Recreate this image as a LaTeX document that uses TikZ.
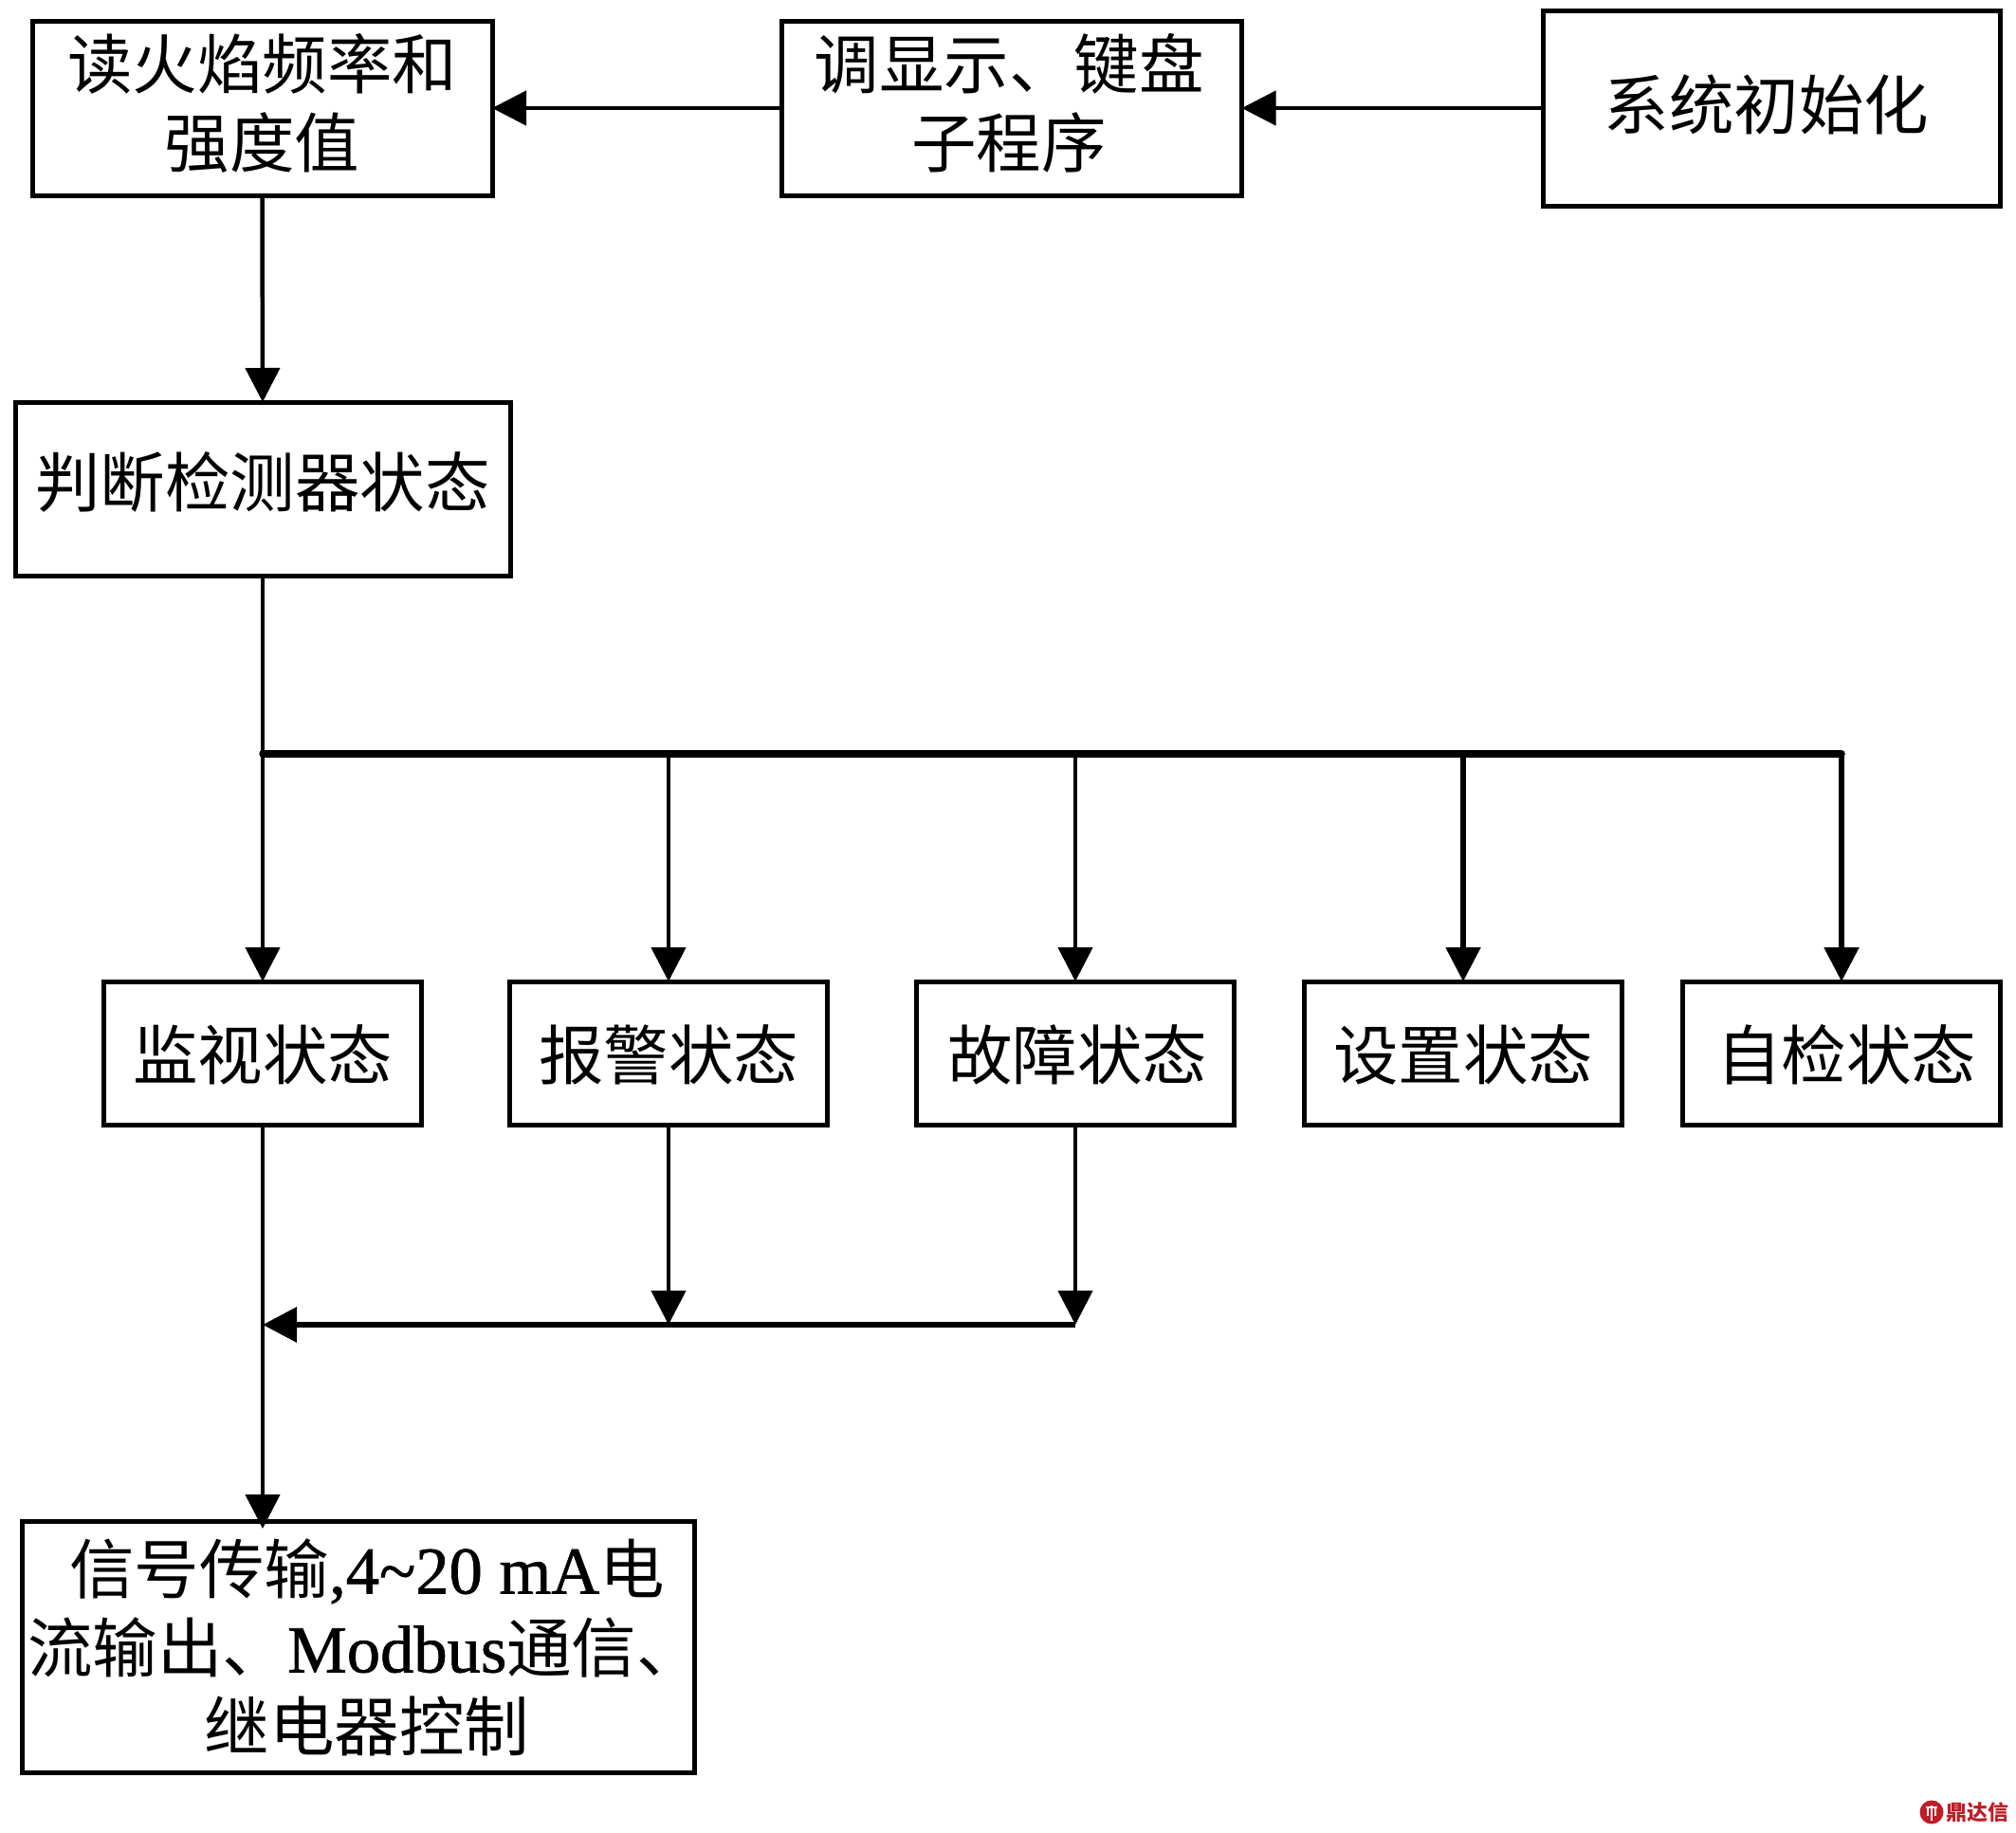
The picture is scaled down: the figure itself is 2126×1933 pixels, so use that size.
\documentclass[tikz,border=0pt]{standalone}
\usepackage{fontspec}
\setmainfont{Liberation Serif}
\newfontfamily\cjk{Noto Sans CJK SC}
\newfontfamily\lat[FakeBold=1,Scale=1.03]{Liberation Serif}
\newcommand{\C}[1]{{\cjk #1}}
\newcommand{\Ln}[2][5pt]{\raisebox{#1}[.8em][.1em]{#2}}
\newcommand{\Wd}[1]{\makebox[650pt][c]{#1}}
\usetikzlibrary{arrows.meta}
\definecolor{wm}{RGB}{190,30,40}
\tikzset{
  box/.style={draw=black,line width=5pt,fill=white,rectangle,inner sep=0pt,outer sep=0pt,align=center,
    font=\fontsize{68.5}{83}\selectfont,line join=miter},
  thin arrow/.style={line width=4.5pt,-{Triangle[length=36pt,width=36pt]}},
  thick arrow/.style={line width=5.5pt,-{Triangle[length=36pt,width=36pt]}},
  bus/.style={line width=7.5pt},
  line/.style={line width=4.5pt},
}
\begin{document}
\begin{tikzpicture}[x=1pt,y=-1pt]
\useasboundingbox (0,0) rectangle (2126,1933);
% top row
\node[box,minimum width=485pt,minimum height=184pt] (read) at (276.5,114) {\Ln[2.5pt]{\C{读火焰频率和}}\\\Ln[2.5pt]{\C{强度值}}};
\node[box,minimum width=485pt,minimum height=184pt] (sub) at (1067,114) {\Ln[2.5pt]{\hspace*{-6pt}\C{调显示、键盘}}\\\Ln[2.5pt]{\hspace*{-6pt}\C{子程序}}};
\node[box,minimum width=482pt,minimum height=206pt] (init) at (1868,114) {\Ln[1pt]{\hspace*{-10pt}\C{系统初始化}}};
% judge
\node[box,minimum width=522pt,minimum height=183pt] (judge) at (277,515.5) {\Ln{\C{判断检测器状态}}};
% state row
\node[box,minimum width=335pt,minimum height=151pt] (mon) at (277,1110.5) {\Ln[-4.5pt]{\C{监视状态}}};
\node[box,minimum width=335pt,minimum height=151pt] (alarm) at (705,1110.5) {\Ln[-4.5pt]{\C{报警状态}}};
\node[box,minimum width=335pt,minimum height=151pt] (fault) at (1134,1110.5) {\Ln[-4.5pt]{\hspace*{4pt}\C{故障状态}}};
\node[box,minimum width=335pt,minimum height=151pt] (setup) at (1543,1110.5) {\Ln[-4.5pt]{\C{设置状态}}};
\node[box,minimum width=335pt,minimum height=151pt] (self) at (1942,1110.5) {\Ln[-4.5pt]{\hspace*{10pt}\C{自检状态}}};
% output box
\node[box,minimum width=709pt,minimum height=265pt] (out) at (377.5,1736.5)
  {\Ln[-3pt]{\Wd{\hspace*{19pt}\C{信号传输}{\lat ,4\char`\~20 mA}\C{电}}}\\\Ln[-3pt]{\Wd{\hspace*{14pt}\C{流输出、}{\lat Modbus}\C{通信、}}}\\\Ln[-3pt]{\Wd{\hspace*{19pt}\C{继电器控制}}}};
% junctions
\coordinate (busL) at (277,795);
\coordinate (busR) at (1942,795);
\coordinate (j2) at (1134,1397);
\coordinate (j1) at (705,1397);
\coordinate (jL) at (277,1397);
% connectors
\draw[thin arrow] (init.west) -- (sub.east);
\draw[thin arrow] (sub.west) -- (read.east);
\draw[thin arrow] (read.south) -- (judge.north);
\draw[thin arrow] (judge.south) -- (mon.north);
\draw[bus,line cap=round] (busL) -- (busR);
\draw[thin arrow] (busL -| alarm.north) -- (alarm.north);
\draw[thin arrow] (busL -| fault.north) -- (fault.north);
\draw[thick arrow] (busL -| setup.north) -- (setup.north);
\draw[thick arrow] (busR) -- (self.north);
\draw[line] (mon.south) -- (jL);
\draw[thin arrow] (jL) -- ([yshift=-8pt]jL |- out.north);
\draw[thin arrow] (alarm.south) -- (j1);
\draw[thin arrow] (fault.south) -- (j2);
\draw[thick arrow,line width=6.5pt] (j2) -- (jL);
% source mark
\node[circle,fill=wm,minimum size=25pt,inner sep=0pt] (logo) at (2037,1911) {};
\draw[white,line width=1.6pt] (2031,1906) -- (2043,1906) (2033,1906) -- (2033,1915) (2041,1906) -- (2041,1915) (2037,1904) -- (2037,1920);
\node[text=wm,inner sep=0pt,font=\fontsize{22}{22}\selectfont\cjk\bfseries] (mark) at (2085,1911) {鼎达信};
\end{tikzpicture}
\end{document}
